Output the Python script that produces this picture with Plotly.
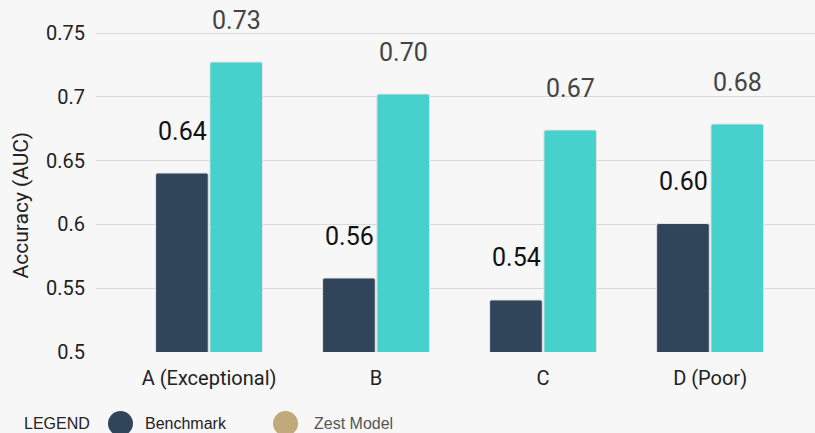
import plotly.graph_objects as go

# Accuracy (AUC) by credit grade
grades = ["A (Exceptional)", "B", "C", "D (Poor)"]
benchmark = [0.6403, 0.558, 0.5408, 0.6007]
zest_model = [0.7273, 0.7022, 0.674, 0.6787]
y_ticks = [0.5, 0.55, 0.6, 0.65, 0.7, 0.75]
y_tick_text = ["0.5", "0.55", "0.6", "0.65", "0.7", "0.75"]

W, H = 815, 433
M_L, M_R, M_T, M_B = 96, 0, 0, 81
PW, PH = W - M_L - M_R, H - M_T - M_B

NAVY = "#30445a"
TEAL = "#47d1cc"
TAN = "#c2a97b"
BG = "#f7f7f7"


def px_x(px):
    return (px - M_L) / PW


def px_y(py):
    return (H - M_B - py) / PH


fig = go.Figure()
fig.add_trace(go.Bar(
    x=grades, y=benchmark, name="Benchmark",
    marker=dict(color=NAVY, line=dict(color="#e4e4e4", width=1), cornerradius=2),
    showlegend=False,
))
fig.add_trace(go.Bar(
    x=grades, y=zest_model, name="Zest Model",
    marker=dict(color=TEAL, line=dict(color="#e4e4e4", width=1), cornerradius=2),
    showlegend=False,
))

# value labels above each bar
label_font = "Roboto, sans-serif"
for g, v in zip(grades, benchmark):
    fig.add_annotation(x=g, y=v, xshift=-27, yshift=42, text=f"{v:.2f}",
                       showarrow=False, font=dict(family=label_font, size=25, color="#111111"))
for g, v in zip(grades, zest_model):
    fig.add_annotation(x=g, y=v, xshift=27, yshift=42, text=f"{v:.2f}",
                       showarrow=False, font=dict(family=label_font, size=25, color="#444444"))

# y axis title
fig.add_annotation(xref="paper", yref="paper", x=px_x(21), y=px_y(205.5),
                   xanchor="center", yanchor="middle",
                   text="Accuracy (AUC)", textangle=-90, showarrow=False,
                   font=dict(family="Roboto, sans-serif", size=21, color="#222222"))

# legend row along the bottom
leg_y = px_y(423.5)
leg_font = "Liberation Sans, Arial, sans-serif"
fig.add_annotation(xref="paper", yref="paper", x=px_x(22), y=leg_y,
                   xanchor="left", yanchor="middle",
                   text="LEGEND", showarrow=False, font=dict(family=leg_font, size=16, color="#222222"))
for cx, col, label, tx, tcol in [(120.5, NAVY, "Benchmark", 143, "#222222"),
                                 (285.5, TAN, "Zest Model", 312, "#555555")]:
    fig.add_shape(type="circle", xref="paper", yref="paper",
                  xsizemode="pixel", ysizemode="pixel",
                  xanchor=px_x(cx), yanchor=leg_y,
                  x0=-12.5, x1=12.5, y0=-12.5, y1=12.5,
                  fillcolor=col, line=dict(width=0))
    fig.add_annotation(xref="paper", yref="paper", x=px_x(tx), y=leg_y,
                       xanchor="left", yanchor="middle",
                       text=label, showarrow=False, font=dict(family=leg_font, size=16, color=tcol))

fig.update_layout(
    width=W, height=H,
    margin=dict(l=M_L, r=M_R, t=M_T, b=M_B, pad=0),
    paper_bgcolor=BG, plot_bgcolor=BG,
    barmode="group", bargap=0.35, bargroupgap=0.03,
    showlegend=False,
    font=dict(family="Roboto, sans-serif", color="#222222"),
    xaxis=dict(range=[-0.677, 3.628], showgrid=False, zeroline=False, showline=False,
               ticks="", tickfont=dict(size=20, color="#222222"), ticklabelstandoff=12),
    yaxis=dict(range=[0.5, 0.7759], tickvals=y_ticks, ticktext=y_tick_text,
               showgrid=True, gridcolor="#d9d9d9", gridwidth=1, zeroline=False,
               showline=False, ticks="", tickfont=dict(size=20, color="#222222"),
               ticklabelstandoff=10),
)

fig.write_html("out.html")
